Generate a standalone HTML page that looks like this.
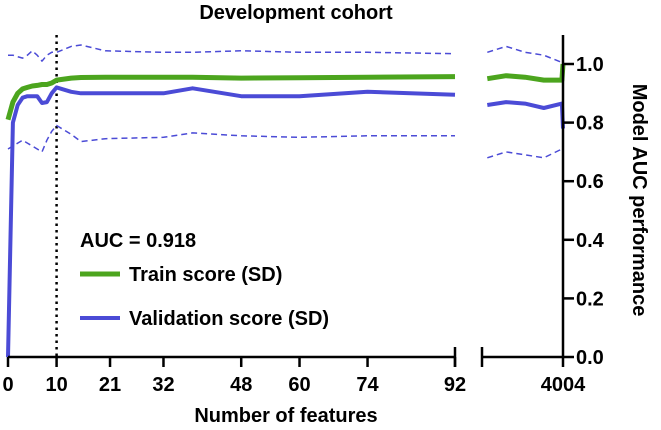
<!DOCTYPE html>
<html><head><meta charset="utf-8"><style>
body{margin:0;background:#fff}
svg{display:block;font-family:"Liberation Sans",Arial,sans-serif;font-weight:bold}
</style></head><body>
<svg id="chart" width="661" height="430" viewBox="0 0 661 430"></svg>
<script>
const leftTicks=[0,10,21,32,48,60,74,92];
const yTicks=[0,0.2,0.4,0.6,0.8,1.0];
const featL=[0,1,2,3,4,5,6,7,8,9,10,13,15,20,32,38,48,60,74,92];
const trainL=[0.81,0.87,0.9,0.915,0.92,0.925,0.927,0.93,0.93,0.935,0.945,0.952,0.954,0.955,0.955,0.955,0.952,0.953,0.955,0.957];
const valL=[0.0,0.8,0.86,0.885,0.89,0.89,0.89,0.867,0.87,0.9,0.92,0.905,0.9,0.9,0.9,0.917,0.89,0.89,0.905,0.895];
const upL=[1.03,1.03,1.025,1.02,1.03,1.045,1.03,1.01,1.03,1.04,1.04,1.06,1.065,1.045,1.04,1.04,1.045,1.04,1.04,1.035];
const loL=[0.71,0.72,0.73,0.74,0.73,0.72,0.71,0.70,0.74,0.77,0.79,0.76,0.735,0.745,0.75,0.765,0.755,0.75,0.755,0.755];
const featR=[3000,3250,3500,3750,3990,4004];
const trainR=[0.95,0.96,0.955,0.945,0.945,1.0];
const valR=[0.86,0.87,0.865,0.85,0.865,0.78];
const upR=[1.04,1.06,1.04,1.03,1.005,1.0];
const loR=[0.68,0.70,0.69,0.68,0.71,0.72];
const NS='http://www.w3.org/2000/svg';
const svg=document.getElementById('chart');
const xL=v=>8+v*(455-8)/92;
const xR=v=>482+(v-2930)*(563-482)/(4004-2930);
const y=v=>357-v*293;
function el(tag,attrs,text){const e=document.createElementNS(NS,tag);for(const k in attrs)e.setAttribute(k,attrs[k]);if(text!==undefined)e.textContent=text;svg.appendChild(e);return e;}
function pts(xs,ys,fx){return xs.map((v,i)=>fx(v).toFixed(1)+','+y(ys[i]).toFixed(1)).join(' ');}
// dotted line at 10
let d=el('line',{x1:xL(10),x2:xL(10),y1:35,y2:357,stroke:'#000','stroke-width':2.5,'stroke-dasharray':'2.5 4'});


const series=[
 [featL,upL,xL,'#4b4bd6',1.5,'6 4','upper-sd-left'],[featL,loL,xL,'#4b4bd6',1.5,'6 4','lower-sd-left'],
 [featR,upR,xR,'#4b4bd6',1.5,'6 4','upper-sd-right'],[featR,loR,xR,'#4b4bd6',1.5,'6 4','lower-sd-right'],
 [featL,trainL,xL,'#4ca51e',5,'','train-line-left'],[featR,trainR,xR,'#4ca51e',5,'','train-line-right'],
 [featL,valL,xL,'#4b4bd6',4,'','validation-line-left'],[featR,valR,xR,'#4b4bd6',4,'','validation-line-right']];
series.forEach(s=>{
 const p=el('polyline',{points:pts(s[0],s[1],s[2]),fill:'none',stroke:s[3],'stroke-width':s[4],'stroke-dasharray':s[5],'stroke-linejoin':'round'});
 
 
});
// axes
let a=el('line',{x1:8,x2:455,y1:357,y2:357,stroke:'#000','stroke-width':2.5});


a=el('line',{x1:482,x2:563,y1:357,y2:357,stroke:'#000','stroke-width':2.5});


el('line',{x1:455,x2:455,y1:347,y2:367,stroke:'#000','stroke-width':2.5});
el('line',{x1:482,x2:482,y1:347,y2:367,stroke:'#000','stroke-width':2.5});
a=el('line',{x1:563,x2:563,y1:35,y2:367,stroke:'#000','stroke-width':2.5});


leftTicks.forEach(t=>{
 el('line',{x1:xL(t),x2:xL(t),y1:357,y2:367,stroke:'#000','stroke-width':2.5});
 const tx=el('text',{x:xL(t),y:391,'text-anchor':'middle','font-size':20},String(t));
 
 
});
let t4=el('text',{x:563,y:391,'text-anchor':'middle','font-size':20},'4004');


yTicks.forEach(t=>{
 el('line',{x1:563,x2:574,y1:y(t),y2:y(t),stroke:'#000','stroke-width':2.5});
 const tx=el('text',{x:576,y:y(t)+7,'font-size':20},t.toFixed(1));
 
 
});
</script>
<svg style="position:absolute;left:0;top:0" width="661" height="430" font-family="Liberation Sans, Arial, sans-serif" font-weight="bold">
<text x="296" y="19" text-anchor="middle" font-size="20">Development cohort</text>
<text x="286" y="422" text-anchor="middle" font-size="20">Number of features</text>
<text transform="translate(633,200) rotate(90)" text-anchor="middle" font-size="20">Model AUC performance</text>
<text x="80" y="247" font-size="20">AUC = 0.918</text>
<g><line x1="80" x2="120" y1="274" y2="274" stroke="#4ca51e" stroke-width="5"/><text x="129" y="281" font-size="20">Train score (SD)</text></g>
<g><line x1="80" x2="120" y1="318" y2="318" stroke="#4b4bd6" stroke-width="4"/><text x="129" y="325" font-size="20">Validation score (SD)</text></g>
</svg>
</body></html>
